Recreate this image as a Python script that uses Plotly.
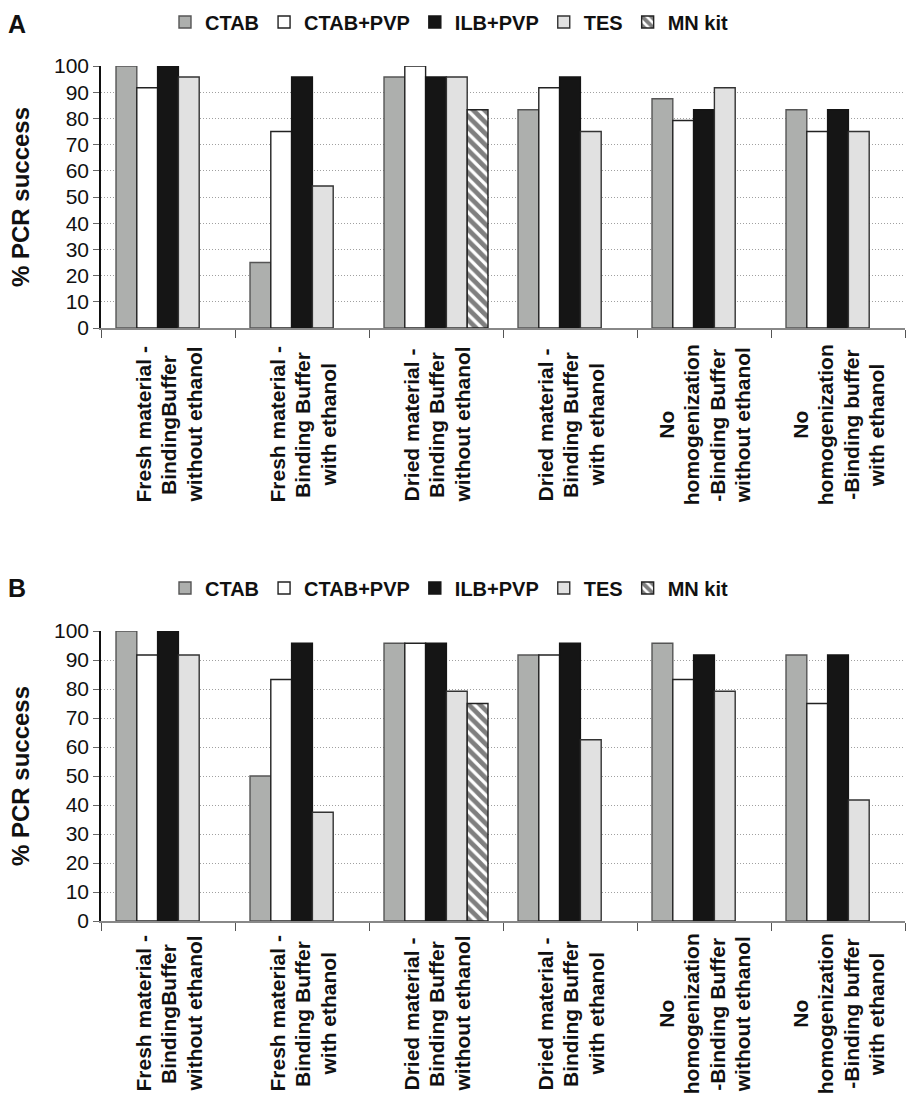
import plotly.graph_objects as go

categories = [
    "Fresh material -<br>BindingBuffer<br>without ethanol",
    "Fresh material -<br>Binding Buffer<br>with ethanol",
    "Dried material -<br>Binding Buffer<br>without ethanol",
    "Dried material -<br>Binding Buffer<br>with ethanol",
    "No<br>homogenization<br>-Binding Buffer<br>without ethanol",
    "No<br>homogenization<br>-Binding buffer<br>with ethanol",
]
series_names = ["CTAB", "CTAB+PVP", "ILB+PVP", "TES", "MN kit"]

# Panel A values (% PCR success)
a_ctab = [100, 25, 95.8, 83.3, 87.5, 83.3]
a_ctab_pvp = [91.7, 75, 100, 91.7, 79.2, 75]
a_ilb_pvp = [100, 95.8, 95.8, 95.8, 83.3, 83.3]
a_tes = [95.8, 54.2, 95.8, 75, 91.7, 75]
a_mn = [None, None, 83.3, None, None, None]

# Panel B values (% PCR success)
b_ctab = [100, 50, 95.8, 91.7, 95.8, 91.7]
b_ctab_pvp = [91.7, 83.3, 95.8, 91.7, 83.3, 75]
b_ilb_pvp = [100, 95.8, 95.8, 95.8, 91.7, 91.7]
b_tes = [91.7, 37.5, 79.2, 62.5, 79.2, 41.7]
b_mn = [None, None, 75, None, None, None]

y_ticks = [0, 10, 20, 30, 40, 50, 60, 70, 80, 90, 100]

FONT = "Liberation Sans, Arial, Helvetica, sans-serif"
fills = ["#adafad", "#ffffff", "#151515", "#e1e1e1", "#ffffff"]
outlines = ["#555555", "#222222", "#151515", "#333333", "#222222"]

W, H = 907, 1097
def py(px):
    return 1 - px / H

fig = go.Figure()

panels = [
    ("x", "y", "legend", [a_ctab, a_ctab_pvp, a_ilb_pvp, a_tes, a_mn]),
    ("x2", "y2", "legend2", [b_ctab, b_ctab_pvp, b_ilb_pvp, b_tes, b_mn]),
]
for xa, ya, leg, vals in panels:
    for i, (name, v) in enumerate(zip(series_names, vals)):
        marker = dict(color=fills[i], line=dict(color=outlines[i], width=1.4))
        if name == "MN kit":
            marker["pattern"] = dict(shape="\\", fgcolor="#000000", bgcolor="#ffffff",
                                     size=8, solidity=0.6)
        fig.add_trace(go.Bar(
            x=categories, y=v, name=name, marker=marker,
            xaxis=xa, yaxis=ya, legend=leg, hoverinfo="skip",
        ))

xdom = [101 / W, 905 / W]
common_x = dict(
    type="category", range=[-0.5, 5.5], showticklabels=False,
    showline=True, linecolor="#888888", linewidth=1.5,
    ticks="outside", tickson="boundaries", ticklen=8, tickcolor="#555555", tickwidth=1.3,
    showgrid=False, zeroline=False, domain=xdom, automargin=False,
)
common_y = dict(
    range=[0, 100], tickmode="array", tickvals=y_ticks,
    ticks="outside", ticklen=6, tickcolor="#666666", tickwidth=1.3,
    showline=True, linecolor="#111111", linewidth=1.5,
    showgrid=True, gridcolor="#a0a0a0", griddash="1px,2px", gridwidth=1,
    zeroline=False, automargin=False,
    tickfont=dict(family=FONT, size=21, color="#111111"),
    title=dict(text="<b>% PCR success</b>", font=dict(family=FONT, size=24, color="#111111"),
               standoff=18),
)

legend_common = dict(
    orientation="h", xanchor="center", yanchor="middle",
    font=dict(family=FONT, size=20, color="#111111", weight="bold"),
    bgcolor="rgba(0,0,0,0)", itemclick=False, itemdoubleclick=False,
)

fig.update_layout(
    width=W, height=H,
    margin=dict(l=0, r=0, t=0, b=0, autoexpand=False),
    plot_bgcolor="#ffffff", paper_bgcolor="#ffffff",
    barmode="group", bargap=0.224, bargroupgap=0,
    xaxis=dict(common_x, anchor="y"),
    yaxis=dict(common_y, domain=[py(328), py(66)], anchor="x"),
    xaxis2=dict(common_x, anchor="y2"),
    yaxis2=dict(common_y, domain=[py(921), py(631)], anchor="x2"),
    legend=dict(legend_common, x=449 / W, y=py(22)),
    legend2=dict(legend_common, x=449 / W, y=py(588)),
    showlegend=True,
)

annotations = []
PITCH = 25.5
for xa, ycenter in [("x", 425), ("x2", 1014)]:
    for c in categories:
        lines = c.split("<br>")
        n = len(lines)
        for j, ln in enumerate(lines):
            annotations.append(dict(
                x=c, xref=xa, y=py(ycenter), yref="paper",
                text="<b>" + ln + "</b>", textangle=-90, align="center",
                xanchor="center", yanchor="middle", showarrow=False,
                xshift=(j - (n - 1) / 2) * PITCH,
                font=dict(family=FONT, size=21, color="#111111"),
            ))
annotations.append(dict(x=6 / W, y=py(8), xref="paper", yref="paper", text="<b>A</b>",
                        showarrow=False, xanchor="left", yanchor="top",
                        font=dict(family=FONT, size=25, color="#111111")))
annotations.append(dict(x=6 / W, y=py(572), xref="paper", yref="paper", text="<b>B</b>",
                        showarrow=False, xanchor="left", yanchor="top",
                        font=dict(family=FONT, size=25, color="#111111")))
fig.update_layout(annotations=annotations)

fig.write_html("out.html", config={"displayModeBar": False},
               post_script="document.body.style.margin='0';document.body.style.overflow='hidden';")
